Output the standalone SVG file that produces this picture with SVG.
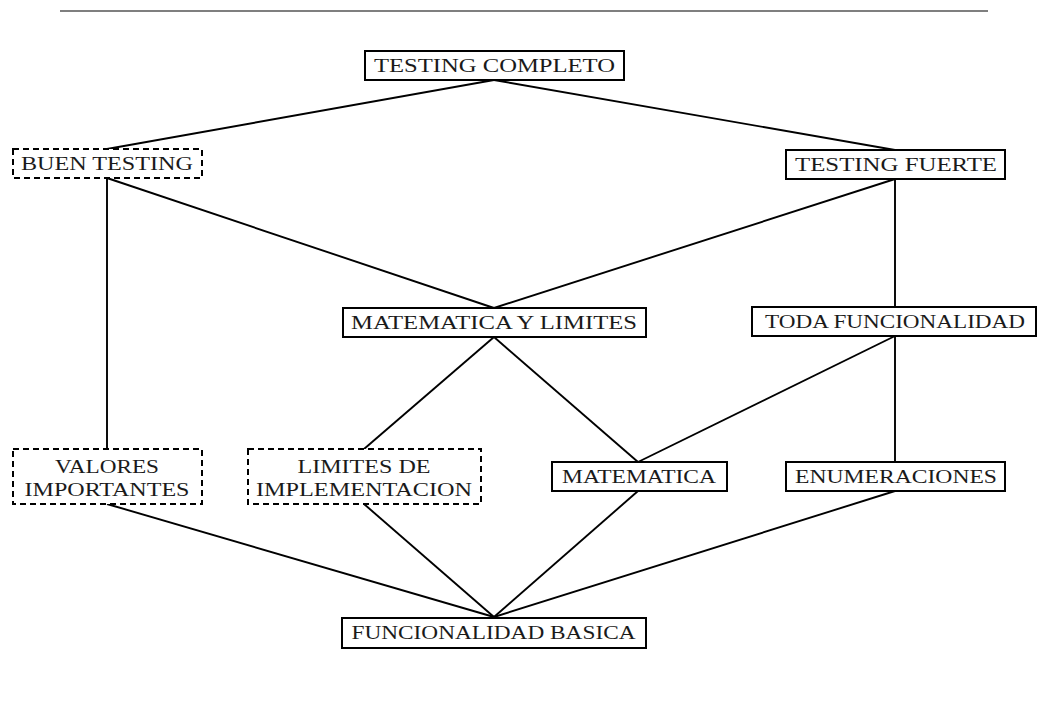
<svg xmlns="http://www.w3.org/2000/svg" width="1038" height="722" viewBox="0 0 1038 722">
<style>
.box{fill:#fff;stroke:#000;stroke-width:2}
.dash{fill:#fff;stroke:#000;stroke-width:2;stroke-dasharray:6 4}
.t{font-family:"Liberation Serif","Times New Roman",serif;font-size:18px;fill:#1a1a1a;text-anchor:middle}
.c line{stroke:#000;stroke-width:1.9}
</style>
<rect width="1038" height="722" fill="#fff"/>
<line x1="60" y1="11" x2="988" y2="11" stroke="#555" stroke-width="1.3"/>
<g class="c" id="connectors">
<line x1="494" y1="80" x2="107" y2="149"/>
<line x1="494" y1="80" x2="895" y2="150"/>
<line x1="107" y1="178" x2="494" y2="308"/>
<line x1="107" y1="178" x2="107" y2="449"/>
<line x1="895" y1="179" x2="494" y2="308"/>
<line x1="895" y1="179" x2="895" y2="307"/>
<line x1="494" y1="337" x2="364" y2="449"/>
<line x1="494" y1="337" x2="638" y2="462"/>
<line x1="895" y1="336" x2="638" y2="462"/>
<line x1="895" y1="336" x2="895" y2="462"/>
<line x1="107" y1="504" x2="494" y2="617"/>
<line x1="364" y1="504" x2="494" y2="617"/>
<line x1="638" y1="491" x2="494" y2="617"/>
<line x1="895" y1="491" x2="494" y2="617"/>
</g>
<g id="testing-completo"><rect class="box" x="365" y="51" width="259" height="29"/><text class="t" x="494.5" y="72" textLength="241" lengthAdjust="spacingAndGlyphs">TESTING COMPLETO</text></g>
<g id="buen-testing"><rect class="dash" x="13" y="149" width="189" height="29"/><text class="t" x="107" y="170" textLength="172" lengthAdjust="spacingAndGlyphs">BUEN TESTING</text></g>
<g id="testing-fuerte"><rect class="box" x="786" y="150" width="219" height="29"/><text class="t" x="896" y="171" textLength="202" lengthAdjust="spacingAndGlyphs">TESTING FUERTE</text></g>
<g id="matematica-y-limites"><rect class="box" x="343" y="308" width="303" height="29"/><text class="t" x="494" y="329" textLength="286" lengthAdjust="spacingAndGlyphs">MATEMATICA Y LIMITES</text></g>
<g id="toda-funcionalidad"><rect class="box" x="752" y="307" width="284" height="29"/><text class="t" x="895" y="328" textLength="260" lengthAdjust="spacingAndGlyphs">TODA FUNCIONALIDAD</text></g>
<g id="valores-importantes"><rect class="dash" x="13" y="449" width="189" height="55"/><text class="t" x="107" y="473" textLength="104" lengthAdjust="spacingAndGlyphs">VALORES</text><text class="t" x="107" y="496" textLength="165" lengthAdjust="spacingAndGlyphs">IMPORTANTES</text></g>
<g id="limites-de-implementacion"><rect class="dash" x="248" y="449" width="233" height="55"/><text class="t" x="364" y="473" textLength="133" lengthAdjust="spacingAndGlyphs">LIMITES DE</text><text class="t" x="364" y="496" textLength="216" lengthAdjust="spacingAndGlyphs">IMPLEMENTACION</text></g>
<g id="matematica"><rect class="box" x="552" y="462" width="175" height="29"/><text class="t" x="639" y="483" textLength="154" lengthAdjust="spacingAndGlyphs">MATEMATICA</text></g>
<g id="enumeraciones"><rect class="box" x="786" y="462" width="219" height="29"/><text class="t" x="896" y="483" textLength="202" lengthAdjust="spacingAndGlyphs">ENUMERACIONES</text></g>
<g id="funcionalidad-basica"><rect class="box" x="342" y="618" width="304" height="30"/><text class="t" x="493.5" y="639" textLength="284" lengthAdjust="spacingAndGlyphs">FUNCIONALIDAD BASICA</text></g>
</svg>
